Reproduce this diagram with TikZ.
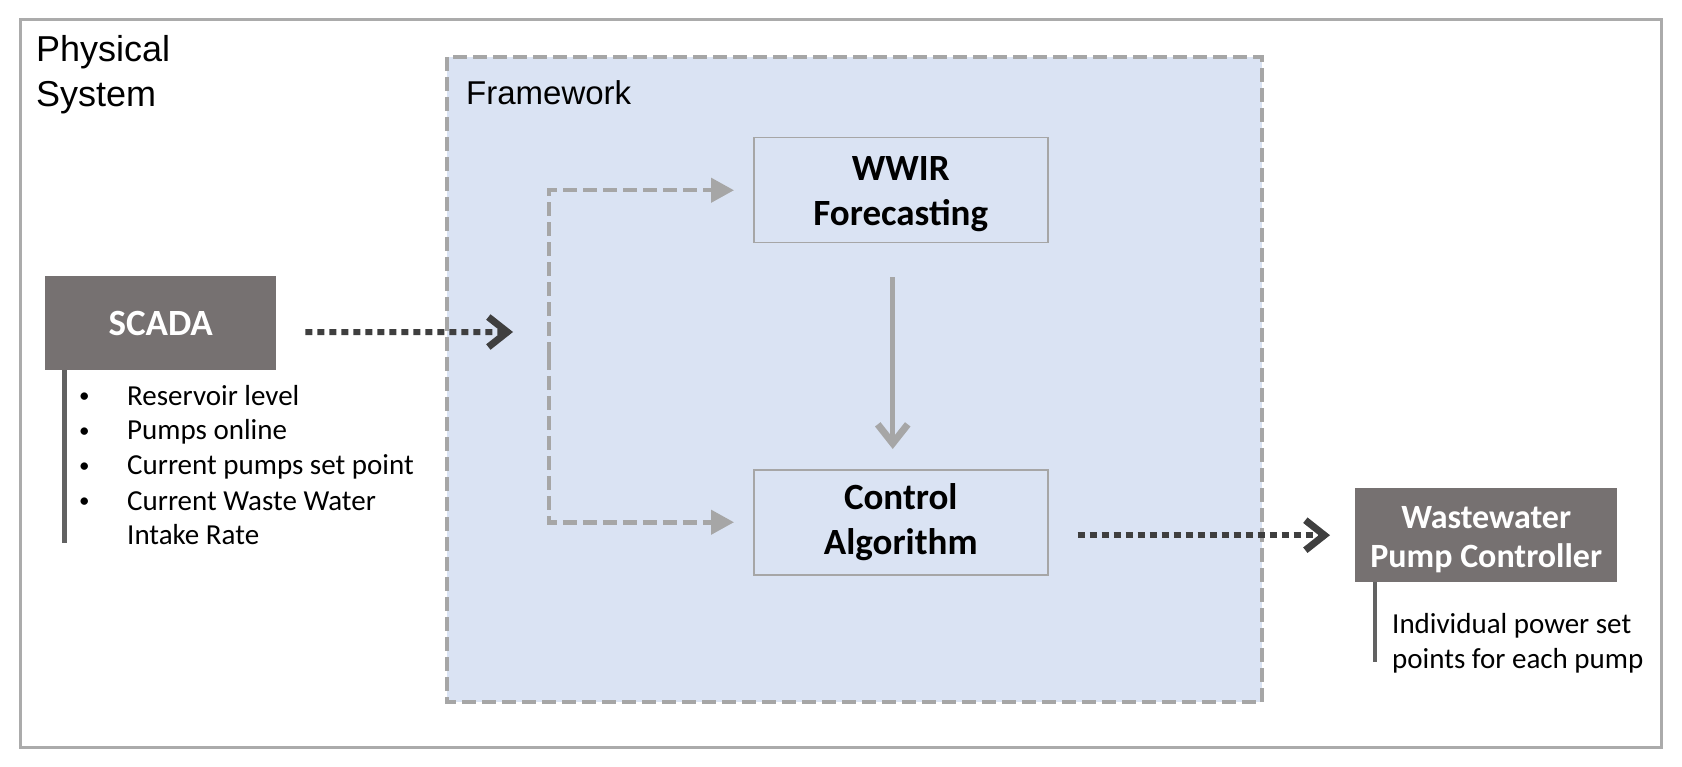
\documentclass[tikz,border=0pt]{standalone}
\usepackage{fontspec}
\setmainfont{Carlito}
\newfontfamily\arialfont{Liberation Sans}
\usepackage{xcolor}
\usepackage{tikz}
\usetikzlibrary{positioning, calc, arrows.meta}

\definecolor{framefill}{HTML}{DAE3F3}
\definecolor{frameedge}{HTML}{A6A6A6}
\definecolor{outeredge}{HTML}{ABABAB}
\definecolor{blockgray}{HTML}{767171}
\definecolor{stemgray}{HTML}{626262}
\definecolor{dotgray}{HTML}{3F3F3F}

\newcommand{\listdot}{\raisebox{2.5pt}{\fontsize{21}{21}\selectfont\textbullet}}

\begin{document}
\begin{tikzpicture}[x=1pt, y=-1pt]
		\tikzstyle{grayblock}=[fill=blockgray, text=white, font=\bfseries\fontsize{37}{43}\selectfont, align=center, inner sep=0pt, anchor=north west]
		\tikzstyle{algblock}=[draw=frameedge, line width=1.5pt, fill=framefill, font=\bfseries\fontsize{37}{45}\selectfont, align=center, inner sep=0pt, anchor=north west, minimum width=294pt, minimum height=105pt]
		\tikzstyle{dotarrow}=[draw=dotgray, line width=6pt, dash pattern=on 7pt off 5pt, -{Straight Barb[length=19pt, width=30pt, line width=7pt]}]
		\tikzstyle{dasharrow}=[draw=frameedge, line width=4.5pt, dash pattern=on 14pt off 6pt, -{Triangle[length=23pt, width=24pt]}]
		\tikzstyle{stemline}=[draw=stemgray, line width=4.5pt]
		\tikzstyle{listtext}=[font=\fontsize{29}{35}\selectfont, inner sep=0pt, anchor=base west]
		
		\useasboundingbox (0,0) rectangle (1682,767);
		
		\draw[draw=outeredge, line width=3pt] (20,20) rectangle (1661,747);
		\draw[draw=frameedge, fill=framefill, line width=3.5pt, dash pattern=on 14pt off 6pt] (447,57) rectangle (1262,702);
		
		\node (physlabel) at (36,62) [anchor=base west, inner sep=0pt, font=\arialfont\fontsize{36}{45}\selectfont] {\begin{tabular}[t]{@{}l@{}}Physical\\System\end{tabular}};
		\node (framelabel) at (466,105) [anchor=base west, inner sep=0pt, font=\arialfont\fontsize{33}{40}\selectfont] {Framework};
		
		\node (wwir) at (753,137) [algblock] {\rule{0pt}{32pt}WWIR\\Forecasting};
		\node (ctrl) at (753,469) [algblock] {Control\\Algorithm};
		
		\node (scada) at (45,276) [grayblock, minimum width=231pt, minimum height=94pt] {SCADA};
		\node (wpc) at (1355,488) [grayblock, minimum width=262pt, minimum height=94pt, font=\bfseries\fontsize{34}{39}\selectfont] {\rule{0pt}{30pt}Wastewater\\Pump Controller};
		
		\node (scadalist) at (79,405) [listtext] {\begin{tabular}[t]{@{}p{48pt}@{}l@{}}
				\listdot & Reservoir level\\
				\listdot & Pumps online\\
				\listdot & Current pumps set point\\
				\listdot & Current Waste Water\\
				& Intake Rate
			\end{tabular}};
		\node (wpclist) at (1392,633) [listtext] {\begin{tabular}[t]{@{}l@{}}Individual power set\\points for each pump\end{tabular}};
		
		\coordinate (scadastem) at (64.5,543);
		\coordinate (wpcstem) at (1375,662);
		\coordinate (fin) at (513,332);
		\coordinate (fork) at (549,356);
		
		\draw[stemline] (scada.south -| scadastem) -- (scadastem);
		\draw[stemline] (wpc.south -| wpcstem) -- (wpcstem);
		
		\draw[dotarrow] ([xshift=29pt, yshift=-9pt]scada.east) -- (fin);
		\draw[dasharrow, shorten >=19pt] (fork) |- (wwir.west);
		\draw[dasharrow, shorten >=19pt] (fork) |- (ctrl.west);
		\draw[draw=frameedge, line width=5pt, -{Straight Barb[length=19pt, width=30pt, line width=7pt]}, shorten <=34pt, shorten >=20pt] ([xshift=-8pt]wwir.south) -- ([xshift=-8pt]ctrl.north);
		\draw[dotarrow] ($(ctrl.east |- wpc.west)+(29,0)$) -- ($(wpc.west)+(-25,0)$);
		
\end{tikzpicture}
\end{document}
